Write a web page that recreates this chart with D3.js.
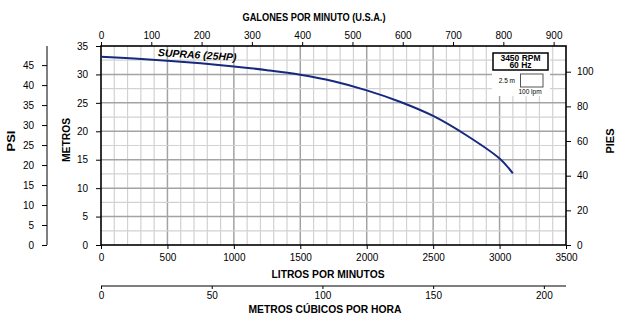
<!DOCTYPE html>
<html>
<head>
<meta charset="utf-8">
<script src="https://cdn.jsdelivr.net/npm/d3@7"></script>
<style>
  body { margin: 0; background: #fff; }
  svg { display: block; font-family: "Liberation Sans", Arial, sans-serif; }
</style>
</head>
<body>
<svg width="622" height="328"></svg>
<script>
// data
var flowLpm = [0, 250, 500, 750, 1000, 1250, 1500, 1750, 2000, 2250, 2500, 2750, 3000, 3100];
var headM   = [33.1, 32.8, 32.4, 31.95, 31.4, 30.75, 29.95, 28.8, 27.2, 25.2, 22.7, 19.3, 15.2, 12.6];
var lpmTicks = [0, 500, 1000, 1500, 2000, 2500, 3000, 3500];
var gpmTicks = [0, 100, 200, 300, 400, 500, 600, 700, 800, 900];
var m3hTicks = [0, 50, 100, 150, 200];
var meterTicks = [0, 5, 10, 15, 20, 25, 30, 35];
var psiTicks = [0, 5, 10, 15, 20, 25, 30, 35, 40, 45];
var ftTicks = [0, 20, 40, 60, 80, 100];

var svg = d3.select('svg');

var ScaleX = d3.scaleLinear().domain([0, 3500]).range([101, 566]);
var ScaleY = d3.scaleLinear().domain([0, 35]).range([245, 46]);
var ScaleGpm = d3.scaleLinear().domain([0, 3500 / 3.78541]).range([101, 566]);
var ScaleM3h = d3.scaleLinear().domain([0, 210]).range([101, 566]);
var ScalePsi = d3.scaleLinear().domain([0, 35 / 0.70307]).range([245, 46]);
var ScaleFt = d3.scaleLinear().domain([0, 35 / 0.3048]).range([245, 46]);

// grid
var grid = svg.append('g');
d3.range(100, 3500, 100).forEach(function(v){
    grid.append('line')
        .attr('x1', ScaleX(v)).attr('x2', ScaleX(v))
        .attr('y1', ScaleY(0)).attr('y2', ScaleY(35))
        .attr('stroke', v % 500 == 0 ? '#a3a3a3' : '#d2d2d2')
        .attr('stroke-width', v % 500 == 0 ? 1.5 : 1.2);
});
d3.range(2.5, 35, 2.5).forEach(function(v){
    grid.append('line')
        .attr('x1', ScaleX(0)).attr('x2', ScaleX(3500))
        .attr('y1', ScaleY(v)).attr('y2', ScaleY(v))
        .attr('stroke', v % 5 == 0 ? '#a3a3a3' : '#d2d2d2')
        .attr('stroke-width', v % 5 == 0 ? 1.5 : 1.2);
});

// legend background
svg.append('rect')
    .attr('x', 492).attr('y', 47).attr('width', 58).attr('height', 49)
    .attr('fill', '#fff');

// frame
svg.append('rect')
    .attr('x', ScaleX(0)).attr('y', ScaleY(35))
    .attr('width', ScaleX(3500) - ScaleX(0))
    .attr('height', ScaleY(0) - ScaleY(35))
    .attr('fill', 'none').attr('stroke', '#000').attr('stroke-width', 1.6);

function styleAxis(g){
    g.select('.domain').remove();
    g.selectAll('line').attr('stroke', '#000').attr('stroke-width', 1);
    g.selectAll('text').attr('font-size', 10).attr('fill', '#000');
}

svg.append('g')
    .attr('transform', 'translate(0,245)')
    .call(d3.axisBottom(ScaleX).tickValues(lpmTicks).tickSize(4).tickPadding(5).tickFormat(d3.format('d')))
    .call(styleAxis);

svg.append('g')
    .attr('transform', 'translate(0,46)')
    .call(d3.axisTop(ScaleGpm).tickValues(gpmTicks).tickSize(4).tickPadding(3).tickFormat(d3.format('d')))
    .call(styleAxis);

svg.append('g')
    .attr('transform', 'translate(101,0)')
    .call(d3.axisLeft(ScaleY).tickValues(meterTicks).tickSize(5).tickPadding(8))
    .call(styleAxis);

svg.append('g')
    .attr('transform', 'translate(566,0)')
    .call(d3.axisRight(ScaleFt).tickValues(ftTicks).tickSize(5).tickPadding(6))
    .call(styleAxis);

// psi axis
var psiAxis = svg.append('g')
    .attr('transform', 'translate(47,0)')
    .call(d3.axisLeft(ScalePsi).tickValues(psiTicks).tickSize(5).tickPadding(8));
psiAxis.select('.domain').attr('d', 'M0,' + ScalePsi(0) + 'V' + ScalePsi(35 / 0.70307))
    .attr('stroke', '#000').attr('stroke-width', 1);
psiAxis.selectAll('line').attr('stroke', '#000');
psiAxis.selectAll('text').attr('font-size', 10).attr('fill', '#000');

// m3/h axis
var m3Axis = svg.append('g')
    .attr('transform', 'translate(0,286)')
    .call(d3.axisBottom(ScaleM3h).tickValues(m3hTicks).tickSize(3).tickPadding(3));
m3Axis.select('.domain').attr('d', 'M' + ScaleM3h(0) + ',0H' + ScaleM3h(210))
    .attr('stroke', '#000').attr('stroke-width', 1.2);
m3Axis.selectAll('line').attr('stroke', '#000');
m3Axis.selectAll('text').attr('font-size', 10).attr('fill', '#000');

// titles
function title(x, y, txt, rot, len){
    var t = svg.append('text')
        .attr('transform', 'translate(' + x + ',' + y + ')' + (rot ? ' rotate(-90)' : ''))
        .attr('text-anchor', 'middle')
        .attr('font-size', 10.5)
        .attr('font-weight', 'bold')
        .text(txt);
    if (len) t.attr('textLength', len).attr('lengthAdjust', 'spacingAndGlyphs');
}
title(314, 20.5, 'GALONES POR MINUTO (U.S.A.)', false, 143);
title(328, 278, 'LITROS POR MINUTOS', false, 113);
title(325, 312.5, 'METROS CÚBICOS POR HORA', false, 153);
title(15, 141, 'PSI', true, 21);
title(70, 140, 'METROS', true, 44);
title(614, 141, 'PIES', true, 25);

// curve
var line = d3.line()
    .x(function(d){ return ScaleX(d[0]); })
    .y(function(d){ return ScaleY(d[1]); })
    .curve(d3.curveCatmullRom.alpha(0.5));
svg.append('path')
    .datum(d3.zip(flowLpm, headM))
    .attr('d', line)
    .attr('fill', 'none')
    .attr('stroke', '#17297f')
    .attr('stroke-width', 2);

svg.append('text')
    .attr('transform', 'translate(197,58.5) rotate(3.5)')
    .attr('text-anchor', 'middle')
    .attr('font-size', 10.5)
    .attr('font-weight', 'bold')
    .attr('font-style', 'italic')
    .text('SUPRA6 (25HP)');

// legend
svg.append('rect')
    .attr('x', 493).attr('y', 53).attr('width', 55).attr('height', 17)
    .attr('fill', '#fff').attr('stroke', '#000').attr('stroke-width', 1.5);
var rpm = svg.append('text').attr('text-anchor', 'middle')
    .attr('font-size', 8.5).attr('font-weight', 'bold');
rpm.append('tspan').attr('x', 520.5).attr('y', 61.2).text('3450 RPM');
rpm.append('tspan').attr('x', 520.5).attr('y', 68.2).text('60 Hz');
svg.append('rect')
    .attr('x', 520.5).attr('y', 74).attr('width', 22.5).attr('height', 13)
    .attr('fill', '#fff').attr('stroke', '#555').attr('stroke-width', 1);
svg.append('text').attr('x', 515).attr('y', 82.5).attr('text-anchor', 'end')
    .attr('font-size', 6.5).text('2.5 m');
svg.append('text').attr('x', 530).attr('y', 93.5).attr('text-anchor', 'middle')
    .attr('font-size', 6.5).text('100 lpm');
</script>
</body>
</html>
